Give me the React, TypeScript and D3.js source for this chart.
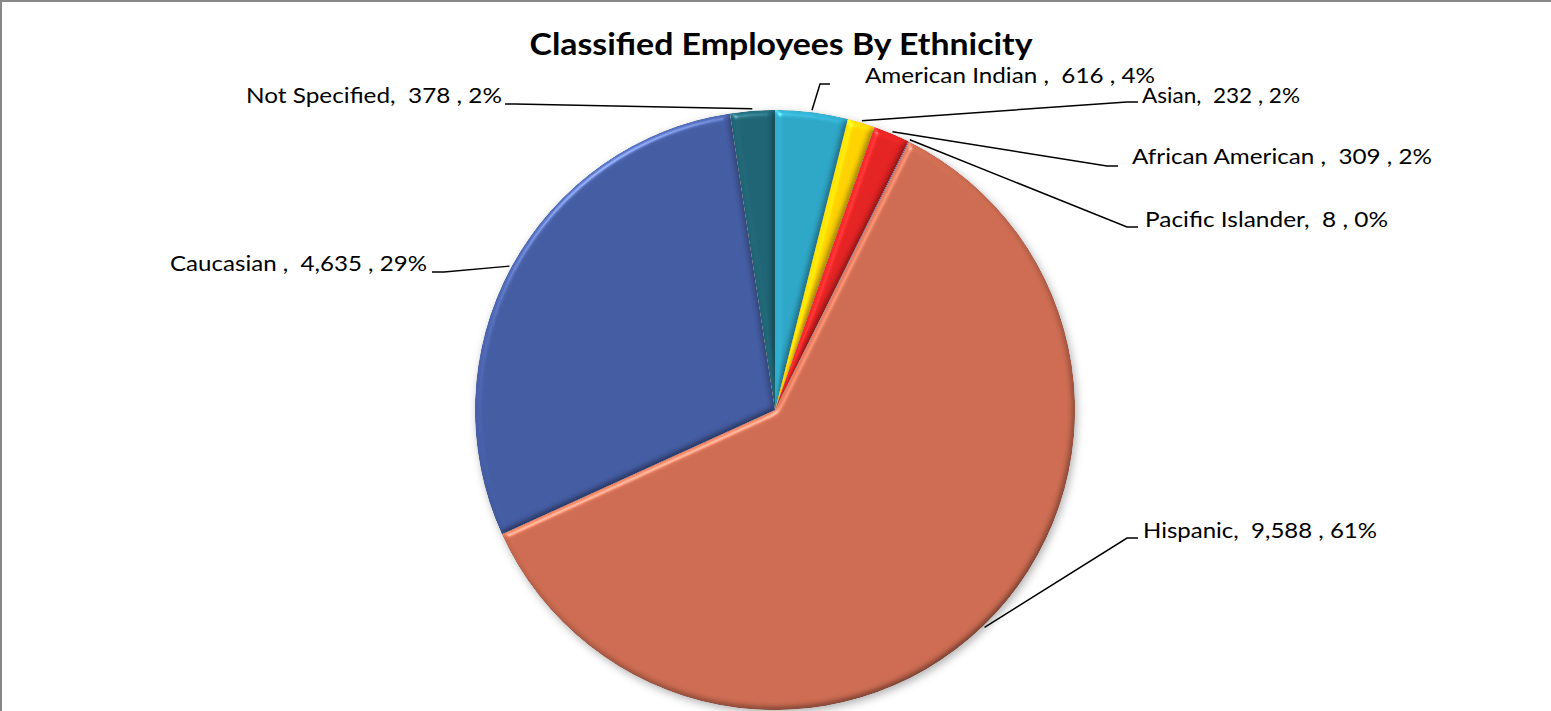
import React from 'react';
import * as d3 from 'd3';

const categories = ['American Indian ', 'Asian', 'African American ', 'Pacific Islander', 'Hispanic', 'Caucasian ', 'Not Specified'];
const values = [616, 232, 309, 8, 9588, 4635, 378];
const pctLabels = ['4%', '2%', '2%', '0%', '61%', '29%', '2%'];
const colors = ['#2ea6c6', '#ffd200', '#e42323', '#8064a2', '#cd6c52', 'url(#caucGrad)', '#1f6474'];
const title = 'Classified Employees By Ethnicity';

// label layout (positions only)
const labelLayout = [
  { anchor: [830, 84], elbow: [820, 84], textX: 865, baseline: 83, align: 'start', width: 290 },
  { anchor: [1138, 102], elbow: [1127, 102], textX: 1142, baseline: 103, align: 'start', width: 158 },
  { anchor: [1118, 166], elbow: [1107, 166], textX: 1132, baseline: 164, align: 'start', width: 300 },
  { anchor: [1138, 227], elbow: [1127, 227], textX: 1145, baseline: 227, align: 'start', width: 243 },
  { anchor: [1138, 538], elbow: [1127, 538], textX: 1143, baseline: 538, align: 'start', width: 234 },
  { anchor: [432, 272], elbow: [444, 272], textX: 427, baseline: 271, align: 'end', width: 257 },
  { anchor: [505, 104], elbow: [515, 104], textX: 502, baseline: 103, align: 'end', width: 256 },
];

const W = 1551;
const H = 711;
const cx = 775;
const cy = 410;
const R = 300;

export default function App() {
  const pie = d3.pie<number>().sort(null).value((d) => d).startAngle(0).endAngle(2 * Math.PI);
  const arcs = pie(values);
  const arc = d3.arc<d3.PieArcDatum<number>>().innerRadius(0).outerRadius(R);
  const edge = d3.arc<d3.PieArcDatum<number>>().innerRadius(R + 2).outerRadius(R + 2);
  const fmtNum = d3.format(',');
  const line = d3.line();

  return (
    <svg width={W} height={H} style={{ position: 'absolute', left: 0, top: 0, background: '#fff' }}>
      <defs>
        <linearGradient id="caucGrad" gradientUnits="userSpaceOnUse" x1="0" y1={cy - R} x2="0" y2={cy + 130}>
          <stop offset="0" stopColor="#445ca2" />
          <stop offset="1" stopColor="#2f4587" />
        </linearGradient>
        <filter id="shadow" x="-10%" y="-10%" width="120%" height="120%" colorInterpolationFilters="sRGB">
          <feDropShadow dx="2" dy="3" stdDeviation="4" floodColor="#000" floodOpacity="0.3" />
        </filter>
        <filter id="bevel" x="-5%" y="-5%" width="110%" height="110%" colorInterpolationFilters="sRGB">
          <feGaussianBlur in="SourceAlpha" stdDeviation="3" result="blur" />
          <feDiffuseLighting in="blur" surfaceScale="2" diffuseConstant="1" lightingColor="#fff" result="diff">
            <feDistantLight azimuth="235" elevation="60" />
          </feDiffuseLighting>
          <feComposite in="SourceGraphic" in2="diff" operator="arithmetic" k1="1.155" k2="0" k3="0" k4="0" result="lit" />
          <feSpecularLighting in="blur" surfaceScale="2" specularConstant="0.3" specularExponent="200" lightingColor="#fff" result="spec">
            <feDistantLight azimuth="235" elevation="60" />
          </feSpecularLighting>
          <feComposite in="spec" in2="SourceAlpha" operator="in" result="specIn" />
          <feComposite in="lit" in2="specIn" operator="arithmetic" k1="0" k2="1" k3="1" k4="0" result="out" />
          <feComposite in="out" in2="SourceAlpha" operator="in" />
        </filter>
      </defs>
      <rect x={0} y={0} width={W} height={2} fill="#888" />
      <rect x={0} y={0} width={2} height={H} fill="#888" />

      <text x={781} y={55} textAnchor="middle" fontFamily="Lato, 'Open Sans', sans-serif" fontWeight="bold" fontSize={30} textLength={503} lengthAdjust="spacingAndGlyphs" fill="#000">
        {title}
      </text>

      <g filter="url(#shadow)">
        <g transform={`translate(${cx},${cy})`}>
          {arcs.map((a, i) => (
            <path key={i} d={arc(a) || ''} fill={colors[i]} filter="url(#bevel)" />
          ))}
        </g>
      </g>

      {arcs.map((a, i) => {
        const L = labelLayout[i];
        const [ex, ey] = edge.centroid(a);
        const pts: [number, number][] = [[cx + ex, cy + ey], [L.elbow[0], L.elbow[1]], [L.anchor[0], L.anchor[1]]];
        return <path key={'l' + i} d={line(pts) || ''} fill="none" stroke="#000" strokeWidth={1.5} />;
      })}

      {arcs.map((a, i) => {
        const L = labelLayout[i];
        const txt = `${categories[i]},  ${fmtNum(values[i])} , ${pctLabels[i]}`;
        const extra: any = L.width ? { textLength: L.width, lengthAdjust: 'spacingAndGlyphs' } : {};
        return (
          <text key={'t' + i} x={L.textX} y={L.baseline} textAnchor={L.align} fontFamily="Lato, 'Open Sans', sans-serif" fontSize={22} fill="#000" style={{ whiteSpace: 'pre' }} {...extra}>
            {txt}
          </text>
        );
      })}
    </svg>
  );
}
